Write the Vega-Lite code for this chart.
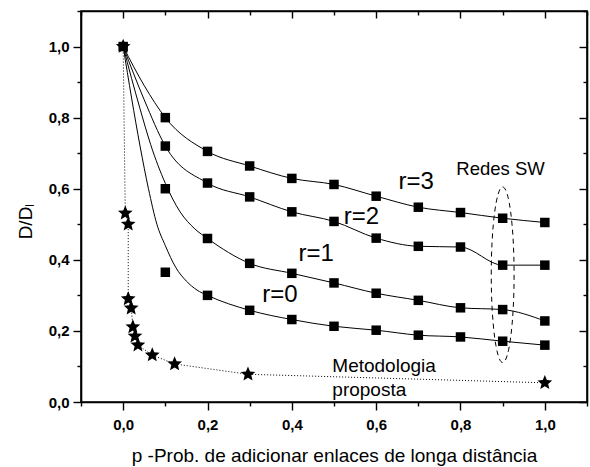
{
  "$schema": "https://vega.github.io/schema/vega-lite/v6.json",
  "width": 506,
  "height": 391,
  "autosize": {"type": "none"},
  "padding": {"left": 81, "top": 11, "right": 3, "bottom": 65},
  "background": "white",
  "config": {
    "view": {"stroke": "black", "strokeWidth": 1.6},
    "font": "Liberation Sans",
    "axis": {"grid": false, "domainColor": "black", "domainWidth": 1.6, "tickColor": "black", "tickWidth": 1.4, "labelColor": "black", "titleColor": "black", "labelFont": "Liberation Sans", "titleFont": "Liberation Sans"}
  },
  "datasets": {
    "squares": [
      {"r": "0", "x": 0, "y": 1.0},
      {"r": "3", "x": 0.1, "y": 0.80}, {"r": "3", "x": 0.2, "y": 0.705}, {"r": "3", "x": 0.3, "y": 0.664}, {"r": "3", "x": 0.4, "y": 0.629}, {"r": "3", "x": 0.5, "y": 0.612}, {"r": "3", "x": 0.6, "y": 0.579}, {"r": "3", "x": 0.7, "y": 0.548}, {"r": "3", "x": 0.8, "y": 0.533}, {"r": "3", "x": 0.9, "y": 0.517}, {"r": "3", "x": 1.0, "y": 0.505},
      {"r": "2", "x": 0.1, "y": 0.72}, {"r": "2", "x": 0.2, "y": 0.616}, {"r": "2", "x": 0.3, "y": 0.577}, {"r": "2", "x": 0.4, "y": 0.535}, {"r": "2", "x": 0.5, "y": 0.508}, {"r": "2", "x": 0.6, "y": 0.461}, {"r": "2", "x": 0.7, "y": 0.438}, {"r": "2", "x": 0.8, "y": 0.436}, {"r": "2", "x": 0.9, "y": 0.385}, {"r": "2", "x": 1.0, "y": 0.385},
      {"r": "1", "x": 0.1, "y": 0.60}, {"r": "1", "x": 0.2, "y": 0.46}, {"r": "1", "x": 0.3, "y": 0.39}, {"r": "1", "x": 0.4, "y": 0.362}, {"r": "1", "x": 0.5, "y": 0.335}, {"r": "1", "x": 0.6, "y": 0.306}, {"r": "1", "x": 0.7, "y": 0.286}, {"r": "1", "x": 0.8, "y": 0.265}, {"r": "1", "x": 0.9, "y": 0.26}, {"r": "1", "x": 1.0, "y": 0.228},
      {"r": "0", "x": 0.1, "y": 0.365}, {"r": "0", "x": 0.2, "y": 0.30}, {"r": "0", "x": 0.3, "y": 0.258}, {"r": "0", "x": 0.4, "y": 0.232}, {"r": "0", "x": 0.5, "y": 0.213}, {"r": "0", "x": 0.6, "y": 0.202}, {"r": "0", "x": 0.7, "y": 0.188}, {"r": "0", "x": 0.8, "y": 0.183}, {"r": "0", "x": 0.9, "y": 0.171}, {"r": "0", "x": 1.0, "y": 0.16}
    ],
    "curves": [
      {"r": "3", "x": 0, "y": 1.0}, {"r": "3", "x": 0.05, "y": 0.89}, {"r": "3", "x": 0.1, "y": 0.80}, {"r": "3", "x": 0.2, "y": 0.705}, {"r": "3", "x": 0.3, "y": 0.664}, {"r": "3", "x": 0.4, "y": 0.629}, {"r": "3", "x": 0.5, "y": 0.612}, {"r": "3", "x": 0.6, "y": 0.579}, {"r": "3", "x": 0.7, "y": 0.548}, {"r": "3", "x": 0.8, "y": 0.533}, {"r": "3", "x": 0.9, "y": 0.517}, {"r": "3", "x": 1.0, "y": 0.505},
      {"r": "2", "x": 0, "y": 1.0}, {"r": "2", "x": 0.05, "y": 0.85}, {"r": "2", "x": 0.1, "y": 0.72}, {"r": "2", "x": 0.2, "y": 0.616}, {"r": "2", "x": 0.3, "y": 0.577}, {"r": "2", "x": 0.4, "y": 0.535}, {"r": "2", "x": 0.5, "y": 0.508}, {"r": "2", "x": 0.6, "y": 0.461}, {"r": "2", "x": 0.7, "y": 0.438}, {"r": "2", "x": 0.8, "y": 0.436}, {"r": "2", "x": 0.9, "y": 0.385}, {"r": "2", "x": 1.0, "y": 0.385},
      {"r": "1", "x": 0, "y": 1.0}, {"r": "1", "x": 0.02, "y": 0.91}, {"r": "1", "x": 0.04, "y": 0.825}, {"r": "1", "x": 0.065, "y": 0.725}, {"r": "1", "x": 0.1, "y": 0.615}, {"r": "1", "x": 0.135, "y": 0.535}, {"r": "1", "x": 0.17, "y": 0.487}, {"r": "1", "x": 0.2, "y": 0.46}, {"r": "1", "x": 0.3, "y": 0.39}, {"r": "1", "x": 0.4, "y": 0.362}, {"r": "1", "x": 0.5, "y": 0.335}, {"r": "1", "x": 0.6, "y": 0.306}, {"r": "1", "x": 0.7, "y": 0.286}, {"r": "1", "x": 0.8, "y": 0.265}, {"r": "1", "x": 0.9, "y": 0.26}, {"r": "1", "x": 1.0, "y": 0.228},
      {"r": "0", "x": 0, "y": 1.0}, {"r": "0", "x": 0.02, "y": 0.855}, {"r": "0", "x": 0.04, "y": 0.72}, {"r": "0", "x": 0.06, "y": 0.60}, {"r": "0", "x": 0.08, "y": 0.50}, {"r": "0", "x": 0.1, "y": 0.44}, {"r": "0", "x": 0.125, "y": 0.378}, {"r": "0", "x": 0.15, "y": 0.34}, {"r": "0", "x": 0.175, "y": 0.315}, {"r": "0", "x": 0.2, "y": 0.30}, {"r": "0", "x": 0.3, "y": 0.258}, {"r": "0", "x": 0.4, "y": 0.232}, {"r": "0", "x": 0.5, "y": 0.213}, {"r": "0", "x": 0.6, "y": 0.202}, {"r": "0", "x": 0.7, "y": 0.188}, {"r": "0", "x": 0.8, "y": 0.183}, {"r": "0", "x": 0.9, "y": 0.171}, {"r": "0", "x": 1.0, "y": 0.16}
    ],
    "stars": [
      {"i": 0, "x": 0, "y": 1.0}, {"i": 1, "x": 0.005, "y": 0.531}, {"i": 2, "x": 0.012, "y": 0.50}, {"i": 3, "x": 0.012, "y": 0.29}, {"i": 4, "x": 0.019, "y": 0.264}, {"i": 5, "x": 0.023, "y": 0.211}, {"i": 6, "x": 0.028, "y": 0.185}, {"i": 7, "x": 0.035, "y": 0.16}, {"i": 8, "x": 0.069, "y": 0.132}, {"i": 9, "x": 0.122, "y": 0.107}, {"i": 10, "x": 0.296, "y": 0.078}, {"i": 11, "x": 1.0, "y": 0.054}
    ],
    "rlabels": [
      {"t": "r=3", "x": 0.653, "y": 0.598}, {"t": "r=2", "x": 0.523, "y": 0.50}, {"t": "r=1", "x": 0.416, "y": 0.396}, {"t": "r=0", "x": 0.33, "y": 0.281}
    ],
    "sw": [{"t": "Redes SW", "x": 0.79, "y": 0.640}],
    "met": [{"t": "Metodologia", "x": 0.496, "y": 0.084}, {"t": "proposta", "x": 0.496, "y": 0.017}],
    "ellipse": [{"x": 0.9, "y": 0.358}]
  },
  "encoding": {
    "x": {"field": "x", "type": "quantitative", "scale": {"domain": [-0.1, 1.1], "nice": false, "zero": false}, "axis": null},
    "y": {"field": "y", "type": "quantitative", "scale": {"domain": [0, 1.1], "nice": false, "zero": false}, "axis": null}
  },
  "layer": [
    {
      "data": {"name": "stars"},
      "mark": {"type": "line", "color": "black", "strokeWidth": 1, "strokeDash": [1, 2]},
      "encoding": {
        "x": {"field": "x", "type": "quantitative", "scale": {"domain": [-0.1, 1.1], "nice": false, "zero": false},
          "axis": {"orient": "bottom", "values": [-0.1, 0, 0.1, 0.2, 0.3, 0.4, 0.5, 0.6, 0.7, 0.8, 0.9, 1, 1.1],
            "labelExpr": "round(datum.value*10)%2==0 && datum.value > -0.05 && datum.value < 1.05 ? replace(format(datum.value,'.1f'),'.',',') : ''",
            "tickSize": {"condition": {"test": "round(datum.value*10)%2==0", "value": 8}, "value": 4},
            "labelFontSize": 15, "labelFontWeight": "bold", "labelPadding": 7, "labelOverlap": false, "labelFlush": false,
            "title": "p -Prob. de adicionar enlaces de longa distância", "titleFontSize": 19, "titleFontWeight": "normal", "titlePadding": 14}},
        "y": {"field": "y", "type": "quantitative", "scale": {"domain": [0, 1.1], "nice": false, "zero": false},
          "axis": {"orient": "left", "values": [0, 0.1, 0.2, 0.3, 0.4, 0.5, 0.6, 0.7, 0.8, 0.9, 1, 1.1],
            "labelExpr": "round(datum.value*10)%2==0 && datum.value < 1.05 ? replace(format(datum.value,'.1f'),'.',',') : ''",
            "tickSize": {"condition": {"test": "round(datum.value*10)%2==0", "value": 8}, "value": 4},
            "labelFontSize": 15, "labelFontWeight": "bold", "labelPadding": 4, "labelOverlap": false, "labelFlush": false,
            "title": "D/Dₗ", "titleFontSize": 19, "titleFontWeight": "normal", "titlePadding": 13, "titleY": 210}},
        "order": {"field": "i", "type": "quantitative"}
      }
    },
    {
      "data": {"name": "curves"},
      "mark": {"type": "line", "color": "black", "strokeWidth": 1, "interpolate": "monotone"},
      "encoding": {"detail": {"field": "r", "type": "nominal"}}
    },
    {
      "data": {"name": "squares"},
      "mark": {"type": "point", "shape": "square", "filled": true, "color": "black", "opacity": 1, "size": 90},
      "encoding": {
        "x": {"field": "x", "type": "quantitative", "scale": {"domain": [-0.1, 1.1], "nice": false, "zero": false},
          "axis": {"orient": "top", "values": [-0.1, 0, 0.1, 0.2, 0.3, 0.4, 0.5, 0.6, 0.7, 0.8, 0.9, 1, 1.1], "labels": false, "title": null,
            "tickSize": {"condition": {"test": "round(datum.value*10)%2==0", "value": -7}, "value": -4}}},
        "y": {"field": "y", "type": "quantitative", "scale": {"domain": [0, 1.1], "nice": false, "zero": false},
          "axis": {"orient": "right", "values": [0, 0.1, 0.2, 0.3, 0.4, 0.5, 0.6, 0.7, 0.8, 0.9, 1, 1.1], "labels": false, "title": null,
            "tickSize": {"condition": {"test": "round(datum.value*10)%2==0", "value": -8}, "value": -4}}}
      }
    },
    {
      "data": {"name": "stars"},
      "mark": {"type": "point", "shape": "M0,-1L0.2645,-0.3641L0.9511,-0.309L0.428,0.1391L0.5878,0.809L0,0.45L-0.5878,0.809L-0.428,0.1391L-0.9511,-0.309L-0.2645,-0.3641Z", "filled": true, "color": "black", "opacity": 1, "size": 240}
    },
    {
      "data": {"name": "ellipse"},
      "mark": {"type": "point", "shape": "M0,-1C0.0718,-1 0.13,-0.5523 0.13,0C0.13,0.5523 0.0718,1 0,1C-0.0718,1 -0.13,0.5523 -0.13,0C-0.13,-0.5523 -0.0718,-1 0,-1Z", "filled": false, "color": "black", "opacity": 1, "strokeWidth": 1, "strokeDash": [5, 4], "size": 30835}
    },
    {
      "data": {"name": "rlabels"},
      "mark": {"type": "text", "align": "left", "baseline": "alphabetic", "fontSize": 24, "font": "Liberation Sans", "color": "black"},
      "encoding": {"text": {"field": "t"}}
    },
    {
      "data": {"name": "sw"},
      "mark": {"type": "text", "align": "left", "baseline": "alphabetic", "fontSize": 18.5, "font": "Liberation Sans", "color": "black"},
      "encoding": {"text": {"field": "t"}}
    },
    {
      "data": {"name": "met"},
      "mark": {"type": "text", "align": "left", "baseline": "alphabetic", "fontSize": 19, "font": "Liberation Sans", "color": "black"},
      "encoding": {"text": {"field": "t"}}
    }
  ],
  "resolve": {"axis": {"x": "independent", "y": "independent"}}
}
